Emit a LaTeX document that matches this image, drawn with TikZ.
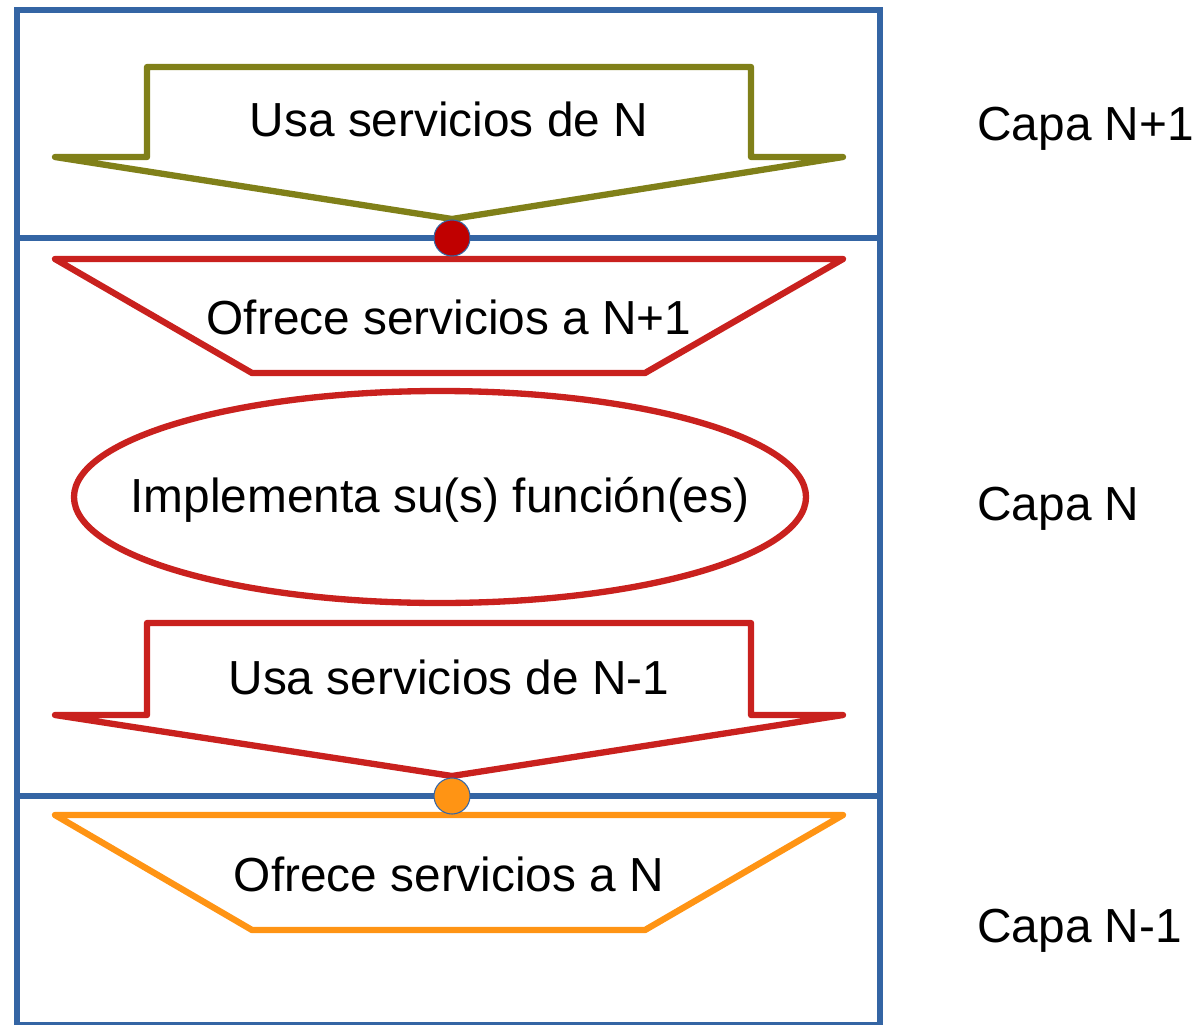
\documentclass[tikz,border=0pt]{standalone}
\usepackage{fontspec}
\setmainfont{Liberation Sans}
\begin{document}
\begin{tikzpicture}[x=0.02cm,y=-0.02cm,
  frame/.style={draw=blueF,line width=3.4pt},
  shapeline/.style={line width=3.6pt,line join=round,line cap=round},
  lbl/.style={font=\fontsize{27.2}{32}\selectfont,inner sep=0pt},
  dot/.style={circle,draw=blueF,line width=0.6pt,minimum size=20.5pt,inner sep=0pt}]
\definecolor{blueF}{HTML}{3465A4}
\definecolor{oliveF}{HTML}{808019}
\definecolor{redF}{HTML}{C9211E}
\definecolor{orangeF}{HTML}{FF9414}
\definecolor{dredF}{HTML}{C00000}
\useasboundingbox (0,0) rectangle (1199,1024);
% frame
\draw[frame] (17,1030) -- (17,10) -- (880,10) -- (880,1030);
\draw[frame] (17,1025) -- (880,1025);
\draw[frame] (17,238) -- (880,238);
\draw[frame] (17,796) -- (880,796);
% olive arrow
\draw[shapeline,draw=oliveF] (147,67) -- (751,67) -- (751,157) -- (843,157) -- (452,219) -- (55,157) -- (147,157) -- cycle;
\node[lbl] (t1) at (449,119) {Usa servicios de N};
% red trapezoid
\draw[shapeline,draw=redF] (55,259) -- (843,259) -- (645,373) -- (252,373) -- cycle;
\node[lbl] (t2) at (449,317) {Ofrece servicios a N+1};
% ellipse
\draw[shapeline,draw=redF] (440,497) ellipse [x radius=366, y radius=106];
\node[lbl] (t3) at (440,500) {Implementa su(s) función(es)};
% red arrow
\draw[shapeline,draw=redF] (147,623) -- (751,623) -- (751,715) -- (843,715) -- (452,776) -- (55,715) -- (147,715) -- cycle;
\node[lbl] (t4) at (449,677) {Usa servicios de N-1};
% orange trapezoid
\draw[shapeline,draw=orangeF] (55,815) -- (843,815) -- (645,930) -- (252,930) -- cycle;
\node[lbl] (t5) at (449,874) {Ofrece servicios a N};
% dots
\node[dot,fill=dredF] (d1) at (452,238) {};
\node[dot,fill=orangeF] (d2) at (452,796) {};
% layer labels
\node[lbl,anchor=west] (c1) at (977,129) {Capa N+1};
\node[lbl,anchor=west] (c2) at (977,509) {Capa N};
\node[lbl,anchor=west] (c3) at (977,931) {Capa N-1};
\end{tikzpicture}
\end{document}
